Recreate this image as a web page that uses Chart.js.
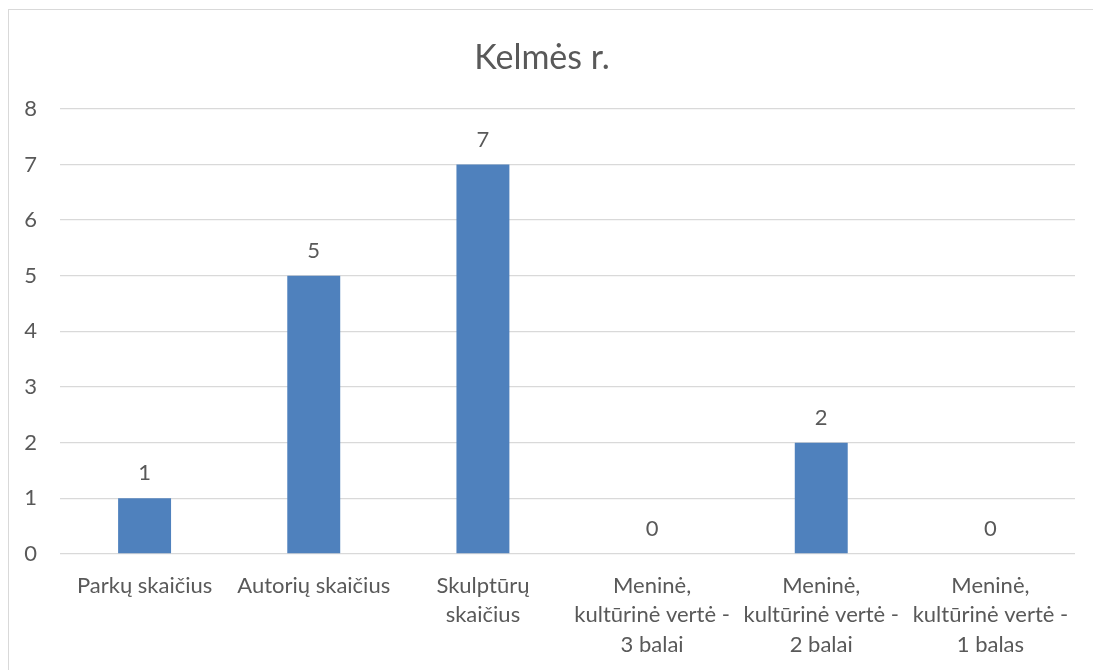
<!DOCTYPE html>
<html>
<head>
<meta charset="utf-8">
<script src="https://cdn.jsdelivr.net/npm/chart.js@4/dist/chart.umd.min.js"></script>
<style>
html,body{margin:0;padding:0;background:#fff;}
#wrap{position:relative;width:1093px;height:670px;}
</style>
</head>
<body>
<div id="wrap"><canvas id="c" width="1093" height="670"></canvas></div>
<script>
const title = "Kelmės r.";
const categories = [
  ["Parkų skaičius"],
  ["Autorių skaičius"],
  ["Skulptūrų", "skaičius"],
  ["Meninė,", "kultūrinė vertė -", "3 balai"],
  ["Meninė,", "kultūrinė vertė -", "2 balai"],
  ["Meninė,", "kultūrinė vertė -", "1 balas"]
];
const values = [1, 5, 7, 0, 2, 0];
const yTicks = [0, 1, 2, 3, 4, 5, 6, 7, 8];

const TEXT = "#595959";
const FONT = "Lato, 'Open Sans', sans-serif";

const borderPlugin = {
  id: 'frame',
  beforeDraw(chart) {
    const ctx = chart.ctx;
    ctx.save();
    ctx.fillStyle = '#fff';
    ctx.fillRect(0, 0, chart.width, chart.height);
    ctx.strokeStyle = '#d9d9d9';
    ctx.lineWidth = 1;
    ctx.strokeRect(8.5, 9.5, 1100, 700);
    ctx.restore();
  }
};

const labelPlugin = {
  id: 'valueLabels',
  afterDatasetsDraw(chart) {
    const ctx = chart.ctx;
    const meta = chart.getDatasetMeta(0);
    ctx.save();
    ctx.fillStyle = TEXT;
    ctx.font = "22px " + FONT;
    ctx.textAlign = 'center';
    ctx.textBaseline = 'middle';
    meta.data.forEach((bar, i) => {
      const v = chart.data.datasets[0].data[i];
      ctx.fillText(String(v), bar.x, bar.y - 25);
    });
    ctx.restore();
  }
};

new Chart(document.getElementById('c'), {
  type: 'bar',
  data: {
    labels: categories,
    datasets: [{
      data: values,
      backgroundColor: '#4F81BD',
      borderWidth: 0,
      categoryPercentage: 1,
      barPercentage: 0.313
    }]
  },
  options: {
    responsive: false,
    animation: false,
    devicePixelRatio: 1,
    layout: { padding: { top: 9, left: 9, right: 18, bottom: 12 } },
    plugins: {
      legend: { display: false },
      tooltip: { enabled: false },
      title: {
        display: true,
        text: title,
        color: TEXT,
        font: { family: FONT, size: 34, weight: 'normal', lineHeight: 1.2 },
        padding: { top: 29, bottom: 30 }
      }
    },
    scales: {
      x: {
        grid: { display: false },
        border: { display: false },
        afterFit(scale) { scale.height = 104; },
        ticks: {
          color: TEXT,
          font: { family: FONT, size: 22, lineHeight: 1.34 },
          maxRotation: 0,
          minRotation: 0,
          autoSkip: false,
          padding: 9
        }
      },
      y: {
        min: 0,
        max: 8,
        afterFit(scale) { scale.width = 51; },
        afterBuildTicks(scale) { scale.ticks = yTicks.map(v => ({ value: v })); },
        grid: { color: '#d9d9d9', lineWidth: 1.3, drawTicks: false },
        border: { display: false },
        ticks: {
          color: TEXT,
          font: { family: FONT, size: 22 },
          padding: 23
        }
      }
    }
  },
  plugins: [borderPlugin, labelPlugin]
});
</script>
</body>
</html>
